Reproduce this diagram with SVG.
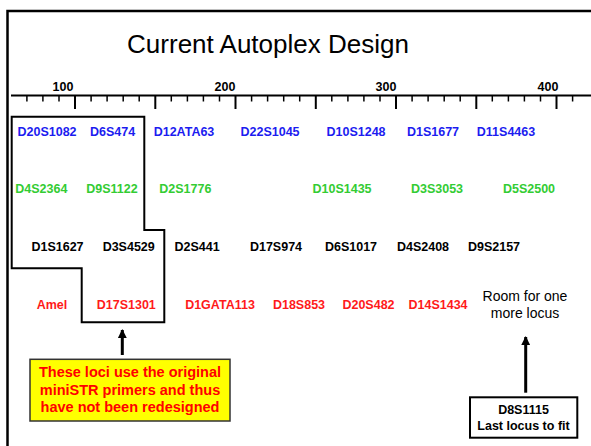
<svg xmlns="http://www.w3.org/2000/svg" width="591" height="446" viewBox="0 0 591 446">
<style>
.title{font-family:"Liberation Sans",Arial,sans-serif;font-size:26px;fill:#000}
.scale{font-family:"Liberation Sans",Arial,sans-serif;font-size:12.5px;font-weight:bold;fill:#000;text-anchor:middle}
.loc{font-family:"Liberation Sans",Arial,sans-serif;font-size:12.5px;font-weight:bold;text-anchor:middle}
.blue{fill:#1c1cf0}
.green{fill:#33cc33}
.black{fill:#000}
.red{fill:#ff1a1a}
.note{font-family:"Liberation Sans",Arial,sans-serif;font-size:14px;text-anchor:middle;fill:#000}
.box{font-family:"Liberation Sans",Arial,sans-serif;font-size:14.5px;font-weight:bold;text-anchor:middle;fill:#ff0000}
.box2{font-family:"Liberation Sans",Arial,sans-serif;font-size:12.5px;font-weight:bold;text-anchor:middle;fill:#000}
.frame{stroke:#000;stroke-width:2.5;fill:none}
.tick{stroke:#000;stroke-width:1.5}
.arrow{stroke:#000;stroke-width:3;fill:none}
</style>
<defs>
<marker id="ah" viewBox="0 0 10 10" refX="9" refY="5" markerWidth="3" markerHeight="3" orient="auto" markerUnits="strokeWidth">
<path d="M0,0 L10,5 L0,10 z" fill="#000"/>
</marker>
</defs>
<rect width="591" height="446" fill="#fff"/>
<g id="frame">
<path class="frame" d="M7.5,446 V11 H591"/>
</g>
<text id="title" class="title" x="268" y="53" text-anchor="middle">Current Autoplex Design</text>
<g id="ruler">
<line x1="11" y1="95.5" x2="591" y2="95.5" stroke="#000" stroke-width="2"/>
<g class="tick">
<line x1="26.9" y1="95.5" x2="26.9" y2="101.5"/>
<line x1="42.9" y1="95.5" x2="42.9" y2="101.5"/>
<line x1="59" y1="95.5" x2="59" y2="101.5"/>
<line x1="75" y1="95.5" x2="75" y2="109" stroke-width="2"/>
<line x1="91.1" y1="95.5" x2="91.1" y2="101.5"/>
<line x1="107.1" y1="95.5" x2="107.1" y2="101.5"/>
<line x1="123.2" y1="95.5" x2="123.2" y2="101.5"/>
<line x1="139.2" y1="95.5" x2="139.2" y2="101.5"/>
<line x1="155.3" y1="95.5" x2="155.3" y2="109" stroke-width="2"/>
<line x1="171.3" y1="95.5" x2="171.3" y2="101.5"/>
<line x1="187.4" y1="95.5" x2="187.4" y2="101.5"/>
<line x1="203.4" y1="95.5" x2="203.4" y2="101.5"/>
<line x1="219.5" y1="95.5" x2="219.5" y2="101.5"/>
<line x1="235.5" y1="95.5" x2="235.5" y2="109" stroke-width="2"/>
<line x1="251.6" y1="95.5" x2="251.6" y2="101.5"/>
<line x1="267.6" y1="95.5" x2="267.6" y2="101.5"/>
<line x1="283.7" y1="95.5" x2="283.7" y2="101.5"/>
<line x1="299.7" y1="95.5" x2="299.7" y2="101.5"/>
<line x1="315.8" y1="95.5" x2="315.8" y2="109" stroke-width="2"/>
<line x1="331.8" y1="95.5" x2="331.8" y2="101.5"/>
<line x1="347.9" y1="95.5" x2="347.9" y2="101.5"/>
<line x1="363.9" y1="95.5" x2="363.9" y2="101.5"/>
<line x1="380" y1="95.5" x2="380" y2="101.5"/>
<line x1="396" y1="95.5" x2="396" y2="109" stroke-width="2"/>
<line x1="412.1" y1="95.5" x2="412.1" y2="101.5"/>
<line x1="428.1" y1="95.5" x2="428.1" y2="101.5"/>
<line x1="444.2" y1="95.5" x2="444.2" y2="101.5"/>
<line x1="460.2" y1="95.5" x2="460.2" y2="101.5"/>
<line x1="476.3" y1="95.5" x2="476.3" y2="109" stroke-width="2"/>
<line x1="492.3" y1="95.5" x2="492.3" y2="101.5"/>
<line x1="508.4" y1="95.5" x2="508.4" y2="101.5"/>
<line x1="524.4" y1="95.5" x2="524.4" y2="101.5"/>
<line x1="540.5" y1="95.5" x2="540.5" y2="101.5"/>
<line x1="556.5" y1="95.5" x2="556.5" y2="109" stroke-width="2"/>
<line x1="572.6" y1="95.5" x2="572.6" y2="101.5"/>
</g>
<text class="scale" x="63" y="91">100</text>
<text class="scale" x="225" y="91">200</text>
<text class="scale" x="386" y="91">300</text>
<text class="scale" x="548" y="91">400</text>
</g>
<g id="original-group">
<path d="M11.7,116.7 H144.3 V230 H164.3 V322.3 H81.7 V268.3 H11.7 Z" fill="none" stroke="#000" stroke-width="2"/>
</g>
<g id="row1" class="loc blue">
<text x="47" y="136">D20S1082</text>
<text x="112.5" y="136">D6S474</text>
<text x="184" y="136">D12ATA63</text>
<text x="270" y="136">D22S1045</text>
<text x="356" y="136">D10S1248</text>
<text x="433" y="136">D1S1677</text>
<text x="506" y="136">D11S4463</text>
</g>
<g id="row2" class="loc green">
<text x="41.3" y="193">D4S2364</text>
<text x="112" y="193">D9S1122</text>
<text x="185.3" y="193">D2S1776</text>
<text x="342" y="193">D10S1435</text>
<text x="437" y="193">D3S3053</text>
<text x="529" y="193">D5S2500</text>
</g>
<g id="row3" class="loc black">
<text x="57.5" y="251">D1S1627</text>
<text x="128.7" y="251">D3S4529</text>
<text x="197" y="251">D2S441</text>
<text x="276" y="251">D17S974</text>
<text x="351" y="251">D6S1017</text>
<text x="423" y="251">D4S2408</text>
<text x="494" y="251">D9S2157</text>
</g>
<g id="row4" class="loc red">
<text x="52" y="309">Amel</text>
<text x="126.3" y="309">D17S1301</text>
<text x="220" y="309">D1GATA113</text>
<text x="299" y="309">D18S853</text>
<text x="368.5" y="309">D20S482</text>
<text x="438" y="309">D14S1434</text>
</g>
<g id="room-note">
<text class="note" x="525" y="301">Room for one</text>
<text class="note" x="525" y="317.5">more locus</text>
</g>
<g id="connectors">
<line class="arrow" x1="122.3" y1="355" x2="122.3" y2="330" marker-end="url(#ah)"/>
<line class="arrow" x1="525.7" y1="392.7" x2="525.7" y2="337" marker-end="url(#ah)"/>
</g>
<g id="note-original">
<rect x="30" y="359.3" width="200" height="61.7" fill="#ffff00" stroke="#333" stroke-width="1.5"/>
<text class="box" x="130" y="377.3">These loci use the original</text>
<text class="box" x="130" y="394.5">miniSTR primers and thus</text>
<text class="box" x="130" y="411.7">have not been redesigned</text>
</g>
<g id="note-last">
<rect x="470" y="397.3" width="107.3" height="40.4" fill="#fff" stroke="#000" stroke-width="2"/>
<text class="box2" x="523.5" y="414">D8S1115</text>
<text class="box2" x="523.5" y="430">Last locus to fit</text>
</g>
</svg>
